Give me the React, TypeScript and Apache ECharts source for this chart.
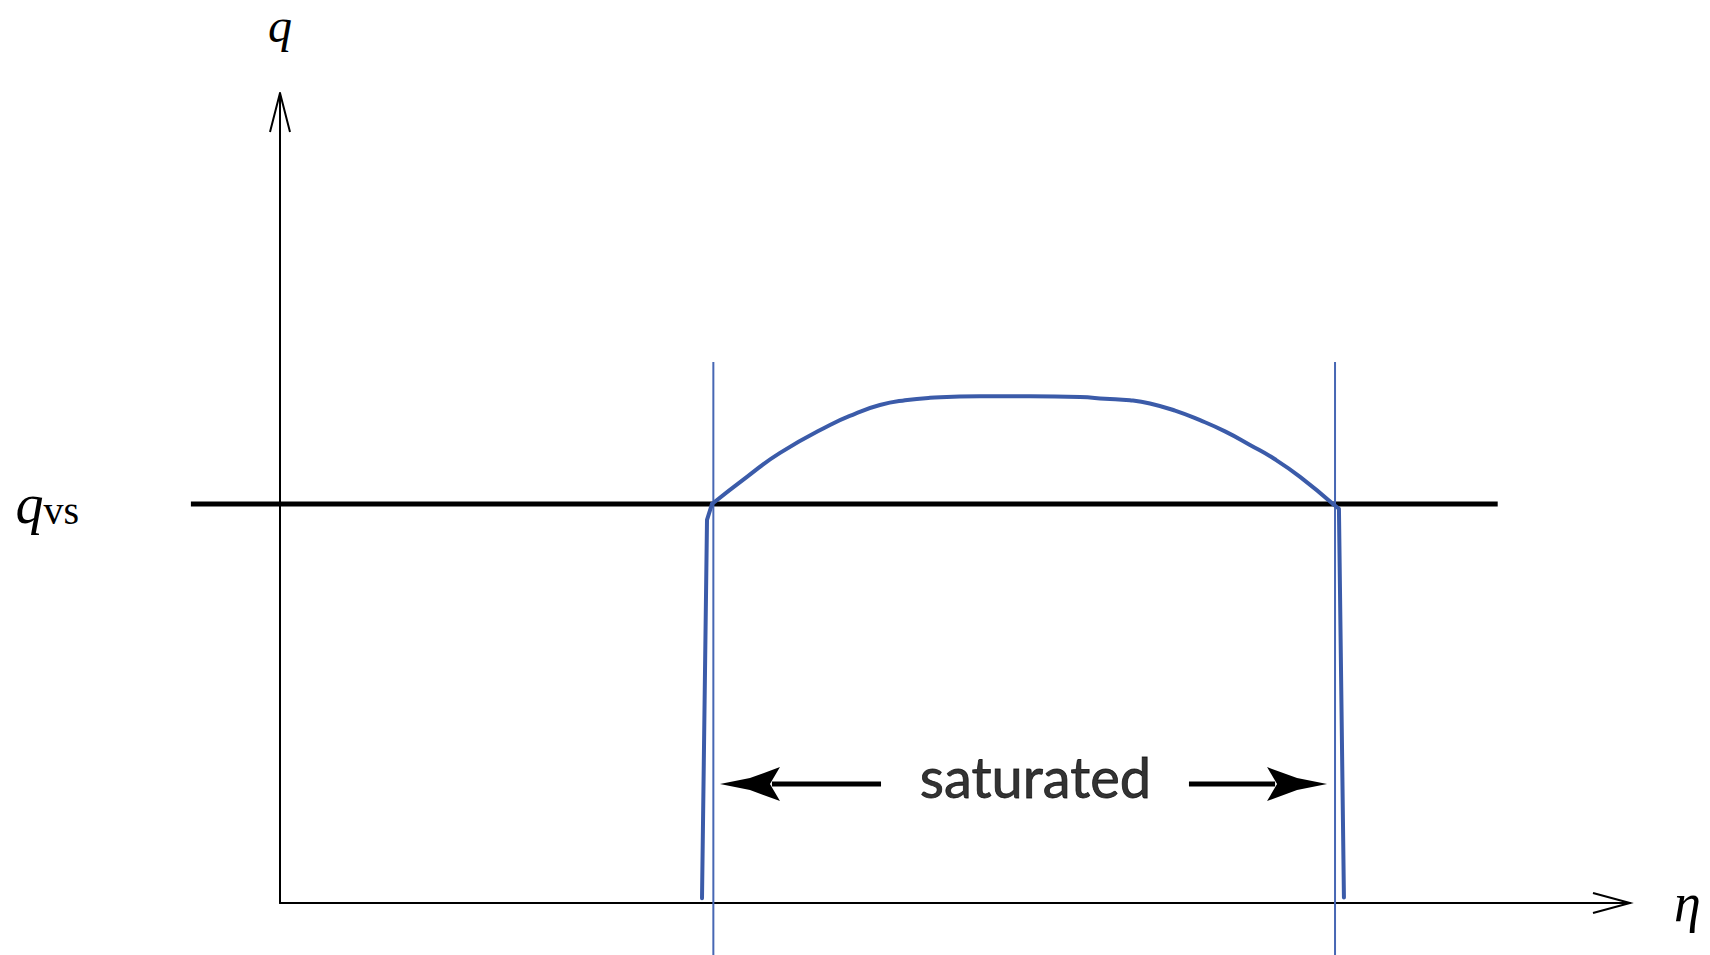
import React, { useEffect, useRef } from "react";
import * as echarts from "echarts";

// Axis extents (arbitrary units: eta horizontally, q vertically)
const X_MAX = 10;
const Y_MAX = 10.15;
const Q_VS = 5;

// Horizontal reference line q = q_vs : [eta1, q1, eta2, q2]
const qvsLine = [[-0.66, Q_VS, 9.02, Q_VS]];

// Thin vertical lines marking the saturated region
const satLeftLine = [
  [3.21, 6.78],
  [3.21, -0.66],
];
const satRightLine = [
  [7.815, 6.78],
  [7.815, -0.66],
];

// Blue curve q(eta)
const curveLeftLeg = [
  [3.126, 0.06],
  [3.163, 4.8],
  [3.2, 5.0],
];
const curveArc = [
  [3.2, 5.0],
  [3.459, 5.34],
  [3.704, 5.64],
  [4.074, 5.99],
  [4.259, 6.13],
  [4.444, 6.24],
  [4.63, 6.3],
  [4.815, 6.33],
  [5.185, 6.35],
  [5.556, 6.35],
  [5.926, 6.34],
  [6.111, 6.32],
  [6.296, 6.3],
  [6.444, 6.26],
  [6.63, 6.17],
  [6.815, 6.05],
  [7.0, 5.91],
  [7.185, 5.74],
  [7.37, 5.56],
  [7.556, 5.34],
  [7.8, 5.0],
];
const curveRightLeg = [
  [7.8, 5.0],
  [7.844, 4.94],
  [7.881, 0.07],
];

// "saturated" arrows: [from eta, to (tip) eta, q]
const satArrows = [
  [4.452, 3.259, 1.49],
  [6.733, 7.756, 1.49],
];
const satLabelPos = [[5.596, 1.49]];
const satLabelText = "saturated";

// Axis end points for arrow heads: [eta, q, 0 = horizontal / 1 = vertical]
const axisEnds = [
  [X_MAX, 0, 0],
  [0, Y_MAX, 1],
];

const BLUE = "#3b5ba9";
const BLUE_THIN = "#4767b4";
const SERIF = "'Liberation Serif', 'DejaVu Serif', serif";

export default function App() {
  const ref = useRef<HTMLDivElement>(null);

  useEffect(() => {
    if (!ref.current) return;
    const chart = echarts.init(ref.current, null, { renderer: "svg" });

    const option: any = {
      animation: false,
      backgroundColor: "#ffffff",
      grid: {
        left: 280,
        right: 80,
        top: 93,
        bottom: 52,
        containLabel: false,
        outerBoundsMode: "none",
      },
      xAxis: {
        type: "value",
        min: 0,
        max: X_MAX,
        axisLine: { show: true, lineStyle: { color: "#000", width: 2 } },
        axisTick: { show: false },
        axisLabel: { show: false },
        splitLine: { show: false },
        name: "η",
        nameLocation: "end",
        nameGap: 44,
        nameTextStyle: {
          fontFamily: SERIF,
          fontStyle: "italic",
          fontSize: 54,
          color: "#000",
        },
      },
      yAxis: {
        type: "value",
        min: 0,
        max: Y_MAX,
        interval: 5,
        axisLine: { show: true, lineStyle: { color: "#000", width: 2 } },
        axisTick: { show: false },
        splitLine: { show: false },
        axisLabel: {
          show: true,
          margin: 201,
          formatter: (v: number) => (v === Q_VS ? "{q|q}{s|vs}" : ""),
          rich: {
            q: {
              fontFamily: SERIF,
              fontStyle: "italic",
              fontSize: 56,
              color: "#000",
            },
            s: {
              fontFamily: SERIF,
              fontSize: 40,
              color: "#000",
              padding: [14, 0, 0, 0],
            },
          },
        },
        name: "q",
        nameLocation: "end",
        nameGap: 44,
        nameTextStyle: {
          fontFamily: SERIF,
          fontStyle: "italic",
          fontSize: 48,
          lineHeight: 48,
          color: "#000",
        },
      },
      series: [
        {
          type: "custom",
          data: qvsLine,
          encode: { x: [0, 2], y: [1, 3] },
          z: 2,
          renderItem: (_params: any, api: any) => {
            const a = api.coord([api.value(0), api.value(1)]);
            const b = api.coord([api.value(2), api.value(3)]);
            return {
              type: "line",
              shape: { x1: a[0], y1: a[1], x2: b[0], y2: b[1] },
              style: { stroke: "#000", lineWidth: 5 },
            };
          },
        },
        {
          type: "line",
          data: satLeftLine,
          clip: false,
          symbol: "none",
          lineStyle: { color: BLUE_THIN, width: 2 },
          z: 3,
        },
        {
          type: "line",
          data: satRightLine,
          clip: false,
          symbol: "none",
          lineStyle: { color: BLUE_THIN, width: 2 },
          z: 3,
        },
        {
          type: "line",
          data: curveLeftLeg,
          clip: false,
          symbol: "none",
          lineStyle: { color: BLUE, width: 4, cap: "round", join: "round" },
          z: 4,
        },
        {
          type: "line",
          data: curveArc,
          clip: false,
          smooth: 0.5,
          symbol: "none",
          lineStyle: { color: BLUE, width: 4, cap: "round", join: "round" },
          z: 4,
        },
        {
          type: "line",
          data: curveRightLeg,
          clip: false,
          symbol: "none",
          lineStyle: { color: BLUE, width: 4, cap: "round", join: "round" },
          z: 4,
        },
        {
          type: "custom",
          data: satArrows,
          encode: { x: [0, 1], y: 2 },
          z: 5,
          renderItem: (_params: any, api: any) => {
            const a = api.coord([api.value(0), api.value(2)]);
            const b = api.coord([api.value(1), api.value(2)]);
            const d = b[0] > a[0] ? 1 : -1;
            const head = [
              [0, 0],
              [-30, -6],
              [-60, -17],
              [-50, 0],
              [-60, 17],
              [-30, 6],
            ].map(([dx, dy]) => [b[0] + d * dx, b[1] + dy]);
            return {
              type: "group",
              children: [
                {
                  type: "line",
                  shape: { x1: a[0], y1: a[1], x2: b[0] - d * 52, y2: b[1] },
                  style: { stroke: "#000", lineWidth: 5 },
                },
                {
                  type: "polygon",
                  shape: { points: head },
                  style: { fill: "#000" },
                },
              ],
            };
          },
        },
        {
          type: "custom",
          data: axisEnds,
          encode: { x: 0, y: 1 },
          z: 5,
          renderItem: (_params: any, api: any) => {
            const p = api.coord([api.value(0), api.value(1)]);
            const horiz = api.value(2) === 0;
            const pts = horiz
              ? [
                  [p[0] - 37, p[1] - 10],
                  [p[0], p[1]],
                  [p[0] - 37, p[1] + 10],
                ]
              : [
                  [p[0] - 10, p[1] + 39],
                  [p[0], p[1]],
                  [p[0] + 10, p[1] + 39],
                ];
            return {
              type: "polyline",
              shape: { points: pts },
              style: { stroke: "#000", lineWidth: 2, fill: null },
            };
          },
        },
        {
          type: "scatter",
          data: satLabelPos,
          symbolSize: 0,
          z: 6,
          label: {
            show: true,
            position: "inside",
            offset: [0, -8],
            formatter: satLabelText,
            fontFamily: "Lato, 'Open Sans', sans-serif",
            fontSize: 56,
            color: "#000",
            textBorderColor: "#000",
            textBorderWidth: 0.8,
          },
        },
      ],
    };

    chart.setOption(option);
    return () => {
      chart.dispose();
    };
  }, []);

  return (
    <div
      ref={ref}
      style={{ position: "absolute", left: 0, top: 0, width: 1710, height: 955 }}
    />
  );
}
